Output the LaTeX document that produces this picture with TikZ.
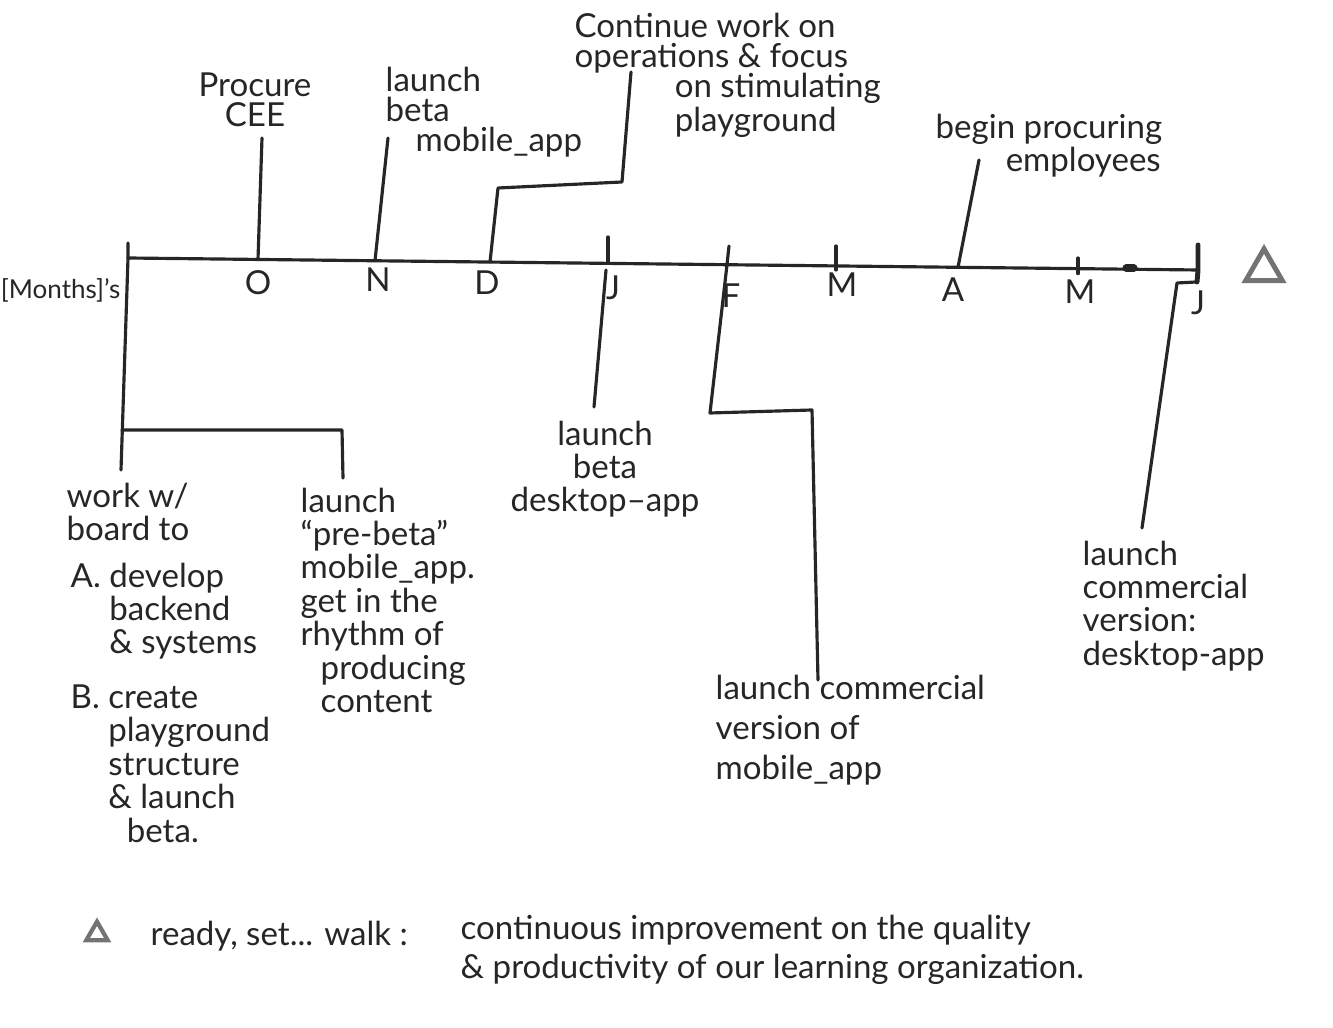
\documentclass[tikz,border=0pt]{standalone}
\usepackage{fontspec}
\setmainfont{Lato}
\usetikzlibrary{shapes.geometric}
\tikzset{
  ink/.style={black!85, line width=0.9pt, line join=round, line cap=round},
  note/.style={inner sep=0pt, align=left, text=black!85, font=\fontsize{9.4}{9.5}\selectfont},
  tight/.style={font=\fontsize{9.4}{8.6}\selectfont},
  month/.style={inner sep=0pt, text=black!85, font=\fontsize{9.4}{10}\selectfont},
  delta/.style={draw=black!55, line width=1.4pt, regular polygon, regular polygon sides=3, inner sep=0pt}
}
\begin{document}
\begin{tikzpicture}[x=0.01cm, y=-0.01cm]
  \useasboundingbox (0,0) rectangle (1333,1028);
  % timeline
  \coordinate (start) at (128,258);
  \coordinate (end) at (1198,270);
  \draw[ink] (start) -- (end);
  \foreach \x/\n in {258/oct, 375/nov, 490/dec, 608/jan, 727/feb, 836/mar, 958/apr, 1078/may, 1198/jun}
    \coordinate (t-\n) at (\x,{258+(\x-128)*12/1070});
  \foreach \x/\y/\m/\n in {258/283/O/oct, 378/280/N/nov, 487/283/D/dec, 613/288/J/jan, 731/296/F/feb,
                           842/285/M/mar, 953/290/A/apr, 1080/292/M/may, 1198/303/J/jun}
    \node[month] (m-\n) at (\x,\y) {\m};
  \draw[ink] (608,237) -- (t-jan);
  \draw[ink] (729,246) -- (t-feb);
  \draw[ink] (836,246) -- (t-mar) -- ++(0,4);
  \draw[ink] (1078,258) -- (t-may) -- ++(0,5);
  \draw[ink, line width=2pt] (1126,268) -- (1134,268);
  \draw[ink, line width=1.4pt] (1198,245) -- (t-jun) -- (1197,282);
  \node[note, anchor=east, font=\fontsize{7.4}{8}\selectfont] (months) at (121,290) {[Months]'s};
  \node[delta, minimum size=12pt] (tri) at (1264,270) {};

  % above the line
  \node[note, tight, align=center] (procure) at (255,100) {Procure\\CEE};
  \node[note, tight, anchor=north west] (betamob) at (385,66) {launch\\beta\\\hspace*{3mm}mobile\_app};
  \node[note, tight, anchor=north west] (ops) at (574,12) {Continue work on\\operations \& focus\\\hspace*{10mm}on stimulating\\\hspace*{10mm}playground};
  \node[note, tight, anchor=north west] (hire) at (935,113) {begin procuring\\\hspace*{7mm}employees};
  \draw[ink] (262,138) -- (t-oct);
  \draw[ink] (388,138) -- (t-nov);
  \draw[ink] (t-dec) -- (498,188) -- (622,182) -- (631,72);
  \draw[ink] (979,160) -- (t-apr);

  % below the line
  \node[note, anchor=north west] (work) at (66,482) {work w/\\board to};
  \node[note, anchor=north west] (planA) at (70,562) {A. develop\\\phantom{A. }backend\\\phantom{A. }\& systems};
  \node[note, anchor=north west] (planB) at (70,684) {B. create\\\phantom{B. }playground\\\phantom{B. }structure\\\phantom{B. }\& launch\\\phantom{B. d}beta.};
  \node[note, anchor=north west] (prebeta) at (300,487) {launch\\``pre-beta''\\mobile\_app.\\get in the\\rhythm of\\\hspace*{2mm}producing\\\hspace*{2mm}content};
  \node[note, align=center, anchor=north] (desk) at (605,420) {launch\\beta\\desktop--app};
  \node[note, anchor=north west, font=\fontsize{9.4}{11.5}\selectfont] (commob) at (715,674) {launch commercial\\version of\\mobile\_app};
  \node[note, anchor=north west] (comdesk) at (1082,540) {launch\\commercial\\version:\\desktop-app};
  \draw[ink] (128,243) -- (start) -- (121,470);
  \draw[ink] (122,430) -- (342,430) -- (343,478);
  \draw[ink] (606,270) -- (594,407);
  \draw[ink] (t-feb) -- (710,413) -- (812,410) -- (818,680);
  \draw[ink] (1196,282) -- (1177,283) -- (1142,528);

  % legend
  \node[delta, minimum size=7pt, line width=1.2pt] (tri2) at (97,934) {};
  \node[note, anchor=west] (ready) at (150,936) {ready, set... walk :};
  \node[note, anchor=west, font=\fontsize{9.4}{11}\selectfont] (goal) at (460,950) {continuous improvement on the quality\\\& productivity of our learning organization.};
\end{tikzpicture}
\end{document}
